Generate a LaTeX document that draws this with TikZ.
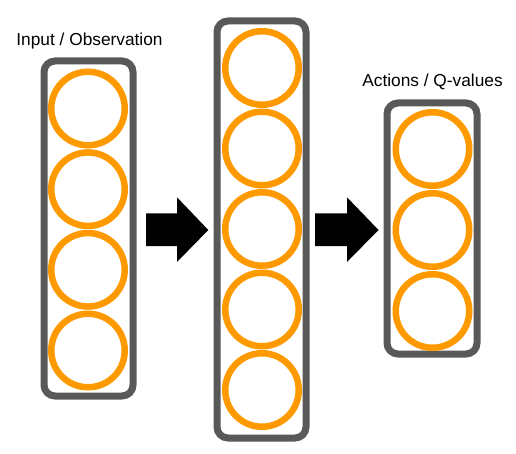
\documentclass[tikz,border=0pt]{standalone}
\usepackage{fontspec}
\setmainfont{Liberation Sans}
\definecolor{boxgray}{HTML}{595959}
\definecolor{neuron}{HTML}{FF9900}
\begin{document}
\begin{tikzpicture}[x=1pt,y=-1pt,
  layerbox/.style={draw=boxgray,line width=7pt,rounded corners=11pt,minimum width=89pt,inner sep=0pt,outer sep=0pt},
  neuronnode/.style={circle,draw=neuron,line width=6.5pt,minimum size=73.5pt,inner sep=0pt},
  labeltext/.style={font=\fontsize{17.3}{20}\selectfont,anchor=base,inner sep=0pt},
  blockarrow/.style={fill=black}]
\useasboundingbox (0,0) rectangle (516,454);
% boxes
\node[layerbox,minimum height=335pt] (inbox) at (88.5,228.5) {};
\node[layerbox,minimum height=417pt] (hidbox) at (261.5,229.5) {};
\node[layerbox,minimum width=90pt,minimum height=251pt] (outbox) at (432,228.5) {};
% input neurons
\node[neuronnode] (i1) at (88,108.5) {};
\node[neuronnode] (i2) at (88,189.2) {};
\node[neuronnode] (i3) at (88,269.8) {};
\node[neuronnode] (i4) at (88,350.5) {};
% hidden neurons
\node[neuronnode] (h1) at (262,68) {};
\node[neuronnode] (h2) at (262,148.5) {};
\node[neuronnode] (h3) at (262,229) {};
\node[neuronnode] (h4) at (262,309.5) {};
\node[neuronnode] (h5) at (262,390) {};
% output neurons
\node[neuronnode] (o1) at (432.5,149) {};
\node[neuronnode] (o2) at (432.5,230) {};
\node[neuronnode] (o3) at (432.5,311) {};
% labels
\node[labeltext] (inlabel) at (89.5,45.7) {Input / Observation};
\node[labeltext] (outlabel) at (432.5,87) {Actions / Q-values};
% block arrows
\fill[blockarrow] (146,213.3) -- (177,213.3) -- (177,197.3) -- (208.3,230) -- (177,262) -- (177,246) -- (146,246) -- cycle;
\fill[blockarrow] (315,213.3) -- (347,213.3) -- (347,197.3) -- (378.5,230) -- (347,262) -- (347,246) -- (315,246) -- cycle;
\end{tikzpicture}
\end{document}
